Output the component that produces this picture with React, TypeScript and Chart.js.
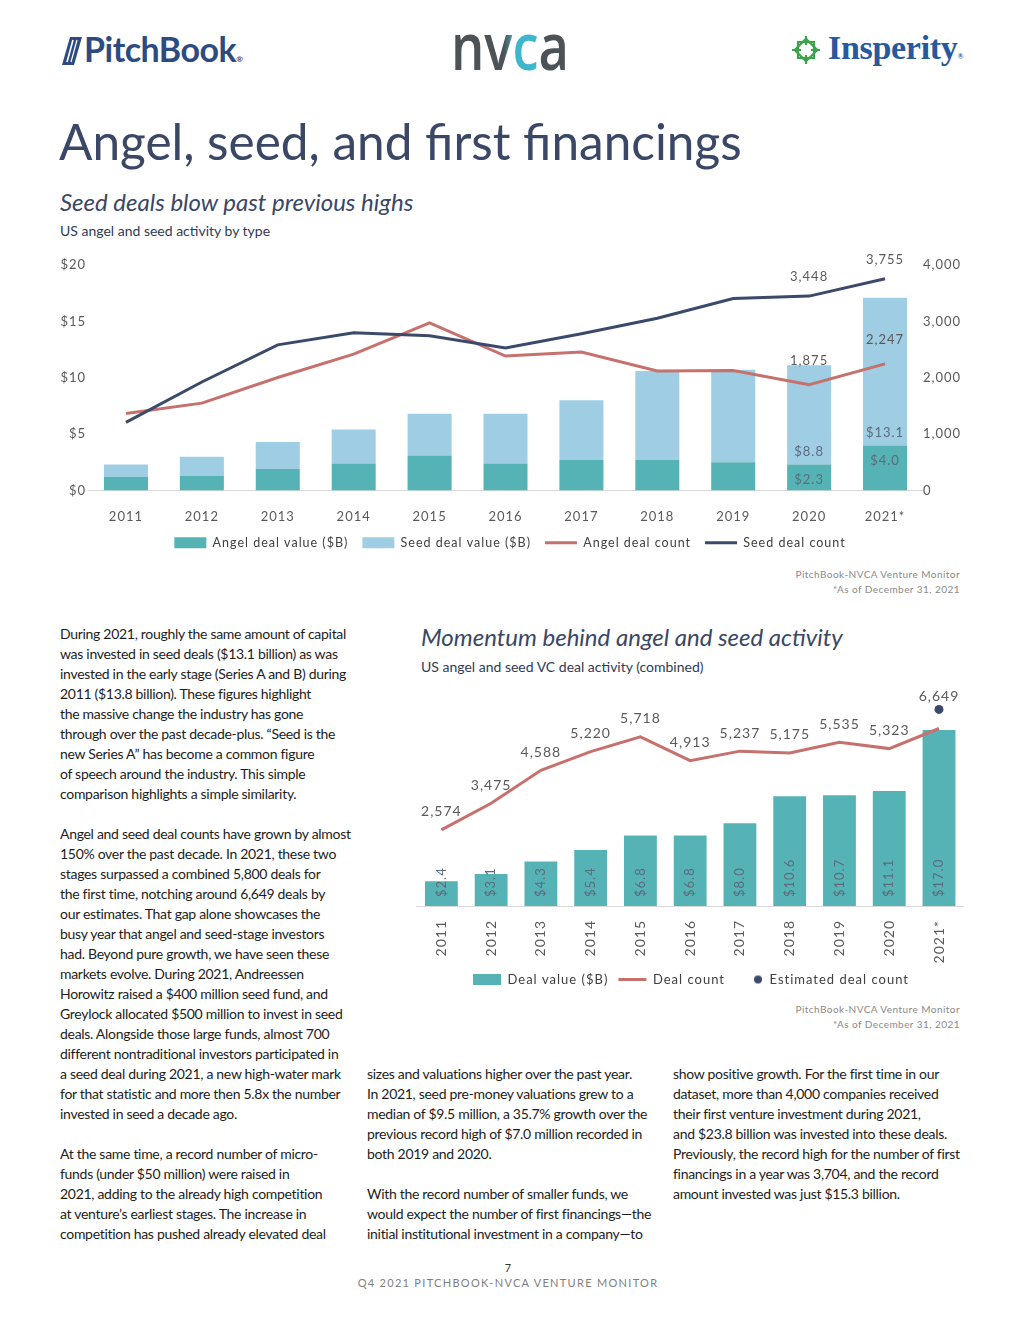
import React, { useEffect, useRef } from 'react';
import { Chart, registerables } from 'chart.js';
Chart.register(...registerables);

// ---------- Data ----------
const years = ['2011', '2012', '2013', '2014', '2015', '2016', '2017', '2018', '2019', '2020', '2021*'];
const angelValue = [1.2, 1.3, 1.9, 2.4, 3.1, 2.4, 2.7, 2.7, 2.5, 2.3, 4.0];
const seedValue = [1.1, 1.7, 2.4, 3.0, 3.7, 4.4, 5.3, 7.9, 8.2, 8.8, 13.1];
const angelCount = [1365, 1550, 2005, 2420, 2975, 2385, 2455, 2120, 2130, 1875, 2247];
const seedCount = [1209, 1925, 2583, 2800, 2743, 2528, 2782, 3055, 3405, 3448, 3755];
const labeledYears = [9, 10];
const valueTicks = { min: 0, max: 20, step: 5 };
const countTicks = { min: 0, max: 4000, step: 1000 };

const dealValue = [2.4, 3.1, 4.3, 5.4, 6.8, 6.8, 8.0, 10.6, 10.7, 11.1, 17.0];
const dealCount = [2574, 3475, 4588, 5220, 5718, 4913, 5237, 5175, 5535, 5323, 6002];
const estimatedCount: (number | null)[] = [null, null, null, null, null, null, null, null, null, null, 6649];

// ---------- Styles ----------
const TEAL = '#56b3b5';
const LIGHT = '#9fcde3';
const RED = '#c6716d';
const NAVY = '#3b4a6b';
const TICK = '#595959';
const VAL = '#5b6c7c';
const FONT = 'Lato';

const col1Lines = [
  'During 2021, roughly the same amount of capital',
  'was invested in seed deals ($13.1 billion) as was',
  'invested in the early stage (Series A and B) during',
  '2011 ($13.8 billion). These figures highlight',
  'the massive change the industry has gone',
  'through over the past decade-plus. \u201cSeed is the',
  'new Series A\u201d has become a common figure',
  'of speech around the industry. This simple',
  'comparison highlights a simple similarity.',
  '',
  'Angel and seed deal counts have grown by almost',
  '150% over the past decade. In 2021, these two',
  'stages surpassed a combined 5,800 deals for',
  'the first time, notching around 6,649 deals by',
  'our estimates. That gap alone showcases the',
  'busy year that angel and seed-stage investors',
  'had. Beyond pure growth, we have seen these',
  'markets evolve. During 2021, Andreessen',
  'Horowitz raised a $400 million seed fund, and',
  'Greylock allocated $500 million to invest in seed',
  'deals. Alongside those large funds, almost 700',
  'different nontraditional investors participated in',
  'a seed deal during 2021, a new high-water mark',
  'for that statistic and more then 5.8x the number',
  'invested in seed a decade ago.',
  '',
  'At the same time, a record number of micro-',
  'funds (under $50 million) were raised in',
  '2021, adding to the already high competition',
  'at venture\u2019s earliest stages. The increase in',
  'competition has pushed already elevated deal',
];
const col2Lines = [
  'sizes and valuations higher over the past year.',
  'In 2021, seed pre-money valuations grew to a',
  'median of $9.5 million, a 35.7% growth over the',
  'previous record high of $7.0 million recorded in',
  'both 2019 and 2020.',
  '',
  'With the record number of smaller funds, we',
  'would expect the number of first financings\u2014the',
  'initial institutional investment in a company\u2014to',
];
const col3Lines = [
  'show positive growth. For the first time in our',
  'dataset, more than 4,000 companies received',
  'their first venture investment during 2021,',
  'and $23.8 billion was invested into these deals.',
  'Previously, the record high for the number of first',
  'financings in a year was 3,704, and the record',
  'amount invested was just $15.3 billion.',
];

const fmt = (n: number) => n.toLocaleString('en-US');

const spacing = (px: string) => ({
  id: 'spacing',
  beforeLayout(chart: any) { chart.ctx.letterSpacing = px; },
  beforeDraw(chart: any) { chart.ctx.letterSpacing = px; },
});

const legendLabels = (chart: any) => {
  const items = (Chart.defaults as any).plugins.legend.labels.generateLabels(chart);
  return items.map((it: any) => {
    const ds: any = chart.data.datasets[it.datasetIndex];
    const isLine = ds.type === 'line';
    const base = { ...it, fontColor: '#404040', lineCap: 'butt', hidden: false };
    if (ds.legendImage) return { ...base, pointStyle: ds.legendImage, lineWidth: 0 };
    return {
      ...base,
      pointStyle: isLine ? 'line' : 'rect',
      lineWidth: isLine ? 3 : 0,
      strokeStyle: ds.borderColor,
      fillStyle: isLine ? ds.borderColor : ds.backgroundColor,
    };
  });
};

const Txt = ({ x, base, size, children, style, align }: any) => {
  const s: any = {
    position: 'absolute',
    top: base - 0.887 * size,
    fontSize: size,
    lineHeight: 1,
    whiteSpace: 'nowrap',
    fontFamily: FONT,
    ...style,
  };
  if (align === 'right') s.right = 1020 - x;
  else if (align === 'center') { s.left = x; s.transform = 'translateX(-50%)'; }
  else s.left = x;
  return <div style={s}>{children}</div>;
};

const Column = ({ x, top, lines }: { x: number; top: number; lines: string[] }) => (
  <div style={{ position: 'absolute', left: x, top, fontFamily: FONT, fontSize: 14, lineHeight: '20px', letterSpacing: -0.3, color: '#1c1c1c', whiteSpace: 'nowrap' }}>
    {lines.map((l, i) => (
      <div key={i} style={{ height: 20 }}>{l || '\u00a0'}</div>
    ))}
  </div>
);

export default function App() {
  const c1 = useRef<HTMLCanvasElement>(null);
  const c2 = useRef<HTMLCanvasElement>(null);

  useEffect(() => {
    const charts: Chart[] = [];
    const tickFont = { family: FONT, size: 13 };

    // ---------- Chart 1 ----------
    const labels1 = {
      id: 'labels1',
      afterDatasetsDraw(chart: any) {
        const ctx = chart.ctx;
        const x = chart.scales.x, y = chart.scales.y, y1 = chart.scales.y1;
        ctx.save();
        ctx.font = `13px ${FONT}`;
        ctx.textAlign = 'center';
        ctx.textBaseline = 'middle';
        labeledYears.forEach((i) => {
          const cx = x.getPixelForValue(i);
          const angelTop = y.getPixelForValue(angelValue[i]);
          ctx.fillStyle = VAL;
          ctx.fillText('$' + angelValue[i].toFixed(1), cx, angelTop + 15);
          ctx.fillText('$' + seedValue[i].toFixed(1), cx, angelTop - 13);
          ctx.fillStyle = TICK;
          ctx.fillText(fmt(angelCount[i]), cx, y1.getPixelForValue(angelCount[i]) - 24);
          ctx.fillText(fmt(seedCount[i]), cx, y1.getPixelForValue(seedCount[i]) - 19);
        });
        ctx.restore();
      },
    };

    if (c1.current) {
      charts.push(new Chart(c1.current, {
        type: 'bar',
        data: {
          labels: years,
          datasets: [
            { type: 'bar', label: 'Angel deal value ($B)', data: angelValue, backgroundColor: TEAL, borderColor: TEAL, borderWidth: 0, yAxisID: 'y', stack: 'v', order: 2, barPercentage: 0.58, categoryPercentage: 1 } as any,
            { type: 'bar', label: 'Seed deal value ($B)', data: seedValue, backgroundColor: LIGHT, borderColor: LIGHT, borderWidth: 0, yAxisID: 'y', stack: 'v', order: 2, barPercentage: 0.58, categoryPercentage: 1 } as any,
            { type: 'line', label: 'Angel deal count', data: angelCount, borderColor: RED, backgroundColor: RED, borderWidth: 3, pointRadius: 0, tension: 0, yAxisID: 'y1', order: 1 } as any,
            { type: 'line', label: 'Seed deal count', data: seedCount, borderColor: NAVY, backgroundColor: NAVY, borderWidth: 3, pointRadius: 0, tension: 0, yAxisID: 'y1', order: 0 } as any,
          ],
        },
        options: {
          responsive: false,
          animation: false,
          layout: { padding: { top: 15, left: 0, right: 0, bottom: 0 } },
          plugins: {
            tooltip: { enabled: false },
            legend: {
              position: 'bottom',
              labels: {
                usePointStyle: true,
                pointStyleWidth: 32,
                boxHeight: 11,
                padding: 14,
                color: '#404040',
                font: { family: FONT, size: 12.5 },
                generateLabels: legendLabels,
                sort: (a: any, b: any) => a.datasetIndex - b.datasetIndex,
              },
            },
          },
          scales: {
            x: {
              stacked: true,
              grid: { display: false, drawTicks: false },
              border: { display: true, color: '#d9d9d9', width: 1 },
              ticks: { padding: 19, color: TICK, font: tickFont },
              afterFit: (s: any) => { s.height = 32; },
            },
            y: {
              stacked: true,
              position: 'left',
              min: valueTicks.min,
              max: valueTicks.max,
              grid: { display: false, drawTicks: false },
              border: { display: false },
              ticks: { stepSize: valueTicks.step, padding: 2, color: TICK, font: tickFont, callback: (v: any) => '$' + v },
              afterFit: (s: any) => { s.width = 38; },
            },
            y1: {
              position: 'right',
              min: countTicks.min,
              max: countTicks.max,
              grid: { display: false, drawTicks: false },
              border: { display: false },
              ticks: { stepSize: countTicks.step, padding: 0, color: TICK, font: tickFont, callback: (v: any) => fmt(Number(v)) },
              afterFit: (s: any) => { s.width = 47; },
            },
          },
        } as any,
        plugins: [spacing('1px'), labels1],
      }));
    }

    // ---------- Chart 2 ----------
    const dot = document.createElement('canvas');
    dot.width = 28; dot.height = 12;
    const dctx = dot.getContext('2d');
    if (dctx) { dctx.fillStyle = NAVY; dctx.beginPath(); dctx.arc(23, 6, 4, 0, Math.PI * 2); dctx.fill(); }

    const labels2 = {
      id: 'labels2',
      afterDatasetsDraw(chart: any) {
        const ctx = chart.ctx;
        const x = chart.scales.x, y = chart.scales.y, y2 = chart.scales.y2;
        ctx.save();
        ctx.font = `14px ${FONT}`;
        ctx.textAlign = 'center';
        ctx.textBaseline = 'middle';
        ctx.fillStyle = TICK;
        years.forEach((_, i) => {
          const cx = x.getPixelForValue(i);
          const est = estimatedCount[i];
          if (est != null) ctx.fillText(fmt(est), cx, y2.getPixelForValue(est) - 13);
          else ctx.fillText(fmt(dealCount[i]), cx, y2.getPixelForValue(dealCount[i]) - 18);
        });
        ctx.font = `13px ${FONT}`;
        ctx.fillStyle = VAL;
        ctx.textAlign = 'left';
        const base = y.getPixelForValue(0);
        years.forEach((_, i) => {
          const cx = x.getPixelForValue(i);
          ctx.save();
          ctx.translate(cx, base - 9);
          ctx.rotate(-Math.PI / 2);
          ctx.fillText('$' + dealValue[i].toFixed(1), 0, 0);
          ctx.restore();
        });
        ctx.restore();
      },
    };

    if (c2.current) {
      charts.push(new Chart(c2.current, {
        type: 'bar',
        data: {
          labels: years,
          datasets: [
            { type: 'bar', label: 'Deal value ($B)', data: dealValue, backgroundColor: TEAL, borderColor: TEAL, borderWidth: 0, yAxisID: 'y', order: 2, barPercentage: 0.66, categoryPercentage: 1 } as any,
            { type: 'line', label: 'Deal count', data: dealCount, borderColor: RED, backgroundColor: RED, borderWidth: 3, pointRadius: 0, tension: 0, yAxisID: 'y2', order: 1 } as any,
            { type: 'line', label: 'Estimated deal count', data: estimatedCount, borderColor: NAVY, backgroundColor: NAVY, showLine: false, pointRadius: 4.5, pointBorderWidth: 0, yAxisID: 'y2', order: 0, legendImage: dot } as any,
          ],
        },
        options: {
          responsive: false,
          animation: false,
          layout: { padding: { top: 19, left: 6.5, right: 4.5, bottom: 0 } },
          plugins: {
            tooltip: { enabled: false },
            legend: {
              position: 'bottom',
              labels: {
                usePointStyle: true,
                pointStyleWidth: 28,
                boxHeight: 11,
                padding: 10,
                color: '#404040',
                font: { family: FONT, size: 13 },
                generateLabels: legendLabels,
                sort: (a: any, b: any) => a.datasetIndex - b.datasetIndex,
              },
            },
          },
          scales: {
            x: {
              grid: { display: false, drawTicks: false },
              border: { display: true, color: '#d9d9d9', width: 1 },
              ticks: { padding: 14, color: TICK, font: { family: FONT, size: 14 }, minRotation: 90, maxRotation: 90, autoSkip: false },
              afterFit: (s: any) => { s.height = 57; },
            },
            y: { display: false, min: 0, max: 20 },
            y2: { display: false, min: 0, max: 7000 },
          },
        } as any,
        plugins: [spacing('1px'), labels2],
      }));
    }

    return () => charts.forEach((c) => c.destroy());
  }, []);

  const navyTitle = '#3a4766';

  return (
    <div style={{ position: 'absolute', left: 0, top: 0, width: 1020, height: 1320, background: '#fff', overflow: 'hidden', fontFamily: FONT }}>
      {/* PitchBook logo */}
      <svg style={{ position: 'absolute', left: 61, top: 36 }} width="24" height="30" viewBox="0 0 24 30">
        <path d="M9 1 L21 1 L13 29 L1 29 Z" fill="#2d4b80" />
        <path d="M12 4 L6 26" stroke="#fff" strokeWidth="1.6" />
        <path d="M16 4 L10 26" stroke="#fff" strokeWidth="1.2" />
      </svg>
      <Txt x={84} base={62} size={34} style={{ color: '#2d4b80', fontWeight: 700, letterSpacing: -0.5 }}>PitchBook<span style={{ fontSize: 8 }}>®</span></Txt>

      {/* NVCA logo */}
      <svg style={{ position: 'absolute', left: 450, top: 26 }} width="122" height="48">
        <defs>
          <linearGradient id="vg" x1="0" x2="1" y1="0" y2="0">
            <stop offset="0.45" stopColor="#4d5257" />
            <stop offset="0.55" stopColor="#3fb6cc" />
          </linearGradient>
        </defs>
        <text x="1" y="44" fontFamily="Open Sans" fontWeight="600" fontSize="66" textLength="118" lengthAdjust="spacingAndGlyphs">
          <tspan fill="#4d5257">n</tspan><tspan fill="url(#vg)">v</tspan><tspan fill="#3fb6cc">c</tspan><tspan fill="#4d5257">a</tspan>
        </text>
      </svg>

      {/* Insperity logo */}
      <svg style={{ position: 'absolute', left: 789, top: 33 }} width="34" height="34" viewBox="0 0 34 34">
        <g fill="none" stroke="#3ba34b" strokeWidth="2.2">
          <rect x="9" y="9" width="16" height="16" />
          <rect x="9" y="9" width="16" height="16" transform="rotate(45 17 17)" />
          <path d="M17 3 V12 M17 22 V31 M3 17 H12 M22 17 H31" />
        </g>
      </svg>
      <Txt x={828} base={61} size={34} style={{ color: '#27599e', fontWeight: 700, fontFamily: 'Liberation Serif', letterSpacing: -0.3 }}>Insperity<span style={{ fontSize: 8 }}>®</span></Txt>

      {/* Title */}
      <Txt x={59} base={161} size={49.5} style={{ color: navyTitle }}>Angel, seed, and first financings</Txt>

      {/* Chart 1 headings */}
      <Txt x={60} base={211} size={24} style={{ color: navyTitle, fontStyle: 'italic' }}>Seed deals blow past previous highs</Txt>
      <Txt x={60} base={236} size={14} style={{ color: '#2e3b57' }}>US angel and seed activity by type</Txt>

      <canvas ref={c1} width={920} height={309} style={{ position: 'absolute', left: 50, top: 250, width: 920, height: 309 }} />

      <Txt x={960} base={578} size={10} align="right" style={{ color: '#8a8a8a', letterSpacing: 0.45 }}>PitchBook-NVCA Venture Monitor</Txt>
      <Txt x={960} base={593} size={10} align="right" style={{ color: '#8a8a8a', letterSpacing: 0.45 }}>*As of December 31, 2021</Txt>

      {/* Chart 2 headings */}
      <Txt x={421} base={646} size={24} style={{ color: navyTitle, fontStyle: 'italic' }}>Momentum behind angel and seed activity</Txt>
      <Txt x={421} base={672} size={14} style={{ color: '#2e3b57' }}>US angel and seed VC deal activity (combined)</Txt>

      <canvas ref={c2} width={560} height={316} style={{ position: 'absolute', left: 410, top: 680, width: 560, height: 316 }} />

      <Txt x={960} base={1013} size={10} align="right" style={{ color: '#8a8a8a', letterSpacing: 0.45 }}>PitchBook-NVCA Venture Monitor</Txt>
      <Txt x={960} base={1028} size={10} align="right" style={{ color: '#8a8a8a', letterSpacing: 0.45 }}>*As of December 31, 2021</Txt>

      {/* Body text */}
      <Column x={60} top={623.6} lines={col1Lines} />
      <Column x={367} top={1063.6} lines={col2Lines} />
      <Column x={673} top={1063.6} lines={col3Lines} />

      {/* Footer */}
      <Txt x={508} base={1272} size={11} align="center" style={{ color: '#333' }}>7</Txt>
      <Txt x={508} base={1287} size={11} align="center" style={{ color: '#7f7f7f', letterSpacing: 1.3 }}>Q4 2021 PITCHBOOK-NVCA VENTURE MONITOR</Txt>
    </div>
  );
}
